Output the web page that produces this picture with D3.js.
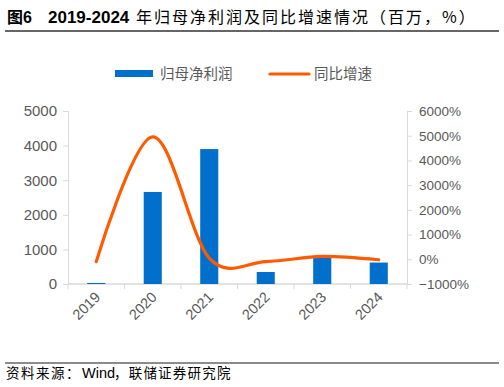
<!DOCTYPE html>
<html><head><meta charset="utf-8">
<script src="https://cdn.jsdelivr.net/npm/d3@7/dist/d3.min.js"></script>
<style>
body{margin:0;background:#fff;}
text{font-family:"Liberation Sans",Arial,"Noto Sans CJK SC",sans-serif;}
</style></head>
<body><svg id="c" width="504" height="387"></svg>
<script>
const years = ["2019","2020","2021","2022","2023","2024"];
const profit = [30, 2660, 3900, 347, 780, 620];
const growth = [-95, 4950, 47, -91, 116, -20];
const leftTicks = [0,1000,2000,3000,4000,5000];
const rightTicks = [-1000,0,1000,2000,3000,4000,5000,6000];

const svg = d3.select("#c");
const cjk = '"Noto Sans CJK SC",sans-serif';
const gray = "#595959";
const axisCol = "#d9d9d9";
const L = 68, R = 407, T = 111, B = 284;

// title
const title = svg.append("text").attr("y",23).attr("fill","#000");
title.append("tspan").attr("x",7).attr("font-size",16).attr("font-weight","bold").style("font-family",'"Liberation Sans","Noto Sans CJK SC",sans-serif').text("图6");
title.append("tspan").attr("x",48).attr("font-size",17).attr("font-weight","bold").style("font-family",'"Liberation Sans",Arial,sans-serif').text("2019-2024");
title.append("tspan").attr("x",136).attr("font-size",16).attr("letter-spacing",2).style("font-family",cjk).text("年归母净利润及同比增速情况（百万，%）");
svg.append("line").attr("x1",5).attr("x2",499).attr("y1",31).attr("y2",31).attr("stroke","#333").attr("stroke-width",1.5);
svg.append("line").attr("x1",5).attr("x2",499).attr("y1",363).attr("y2",363).attr("stroke","#666").attr("stroke-width",1.3);
const foot = svg.append("text").attr("y",378).attr("fill","#000").attr("font-size",13.5);
foot.append("tspan").attr("x",6).attr("letter-spacing",1.5).style("font-family",cjk).text("资料来源：");
foot.append("tspan").attr("x",82).attr("font-size",14.5).style("font-family",'"Liberation Sans",Arial,sans-serif').text("Wind");
foot.append("tspan").attr("x",114).attr("letter-spacing",1.2).style("font-family",cjk).text("，联储证券研究院");

const x = d3.scaleBand().domain(years).range([L,R]).paddingInner(0.68).paddingOuter(0.34);
const xb = d3.scaleBand().domain(years).range([L,R]);
const yL = d3.scaleLinear().domain([0,5000]).range([B,T]);
const yR = d3.scaleLinear().domain([-1000,6000]).range([B,T]);

// axes
const gL = svg.append("g").attr("transform",`translate(${L},0)`)
  .call(d3.axisLeft(yL).tickValues(leftTicks).tickSize(5).tickPadding(6).tickFormat(d3.format("d")));
const gR = svg.append("g").attr("transform",`translate(${R},0)`)
  .call(d3.axisRight(yR).tickValues(rightTicks).tickSize(5).tickPadding(7).tickFormat(d=>(d<0?"−"+(-d):d)+"%"));
[gL,gR].forEach(g=>{
  g.select(".domain").attr("stroke",axisCol);
  g.selectAll(".tick line").attr("stroke",axisCol);
  g.selectAll("text").attr("fill",gray).attr("font-size",gL===g?15:13.5).style("font-family",'"Liberation Sans",Arial,sans-serif');
});

// x axis
const gX = svg.append("g").attr("transform",`translate(0,${B})`);
gX.append("line").attr("x1",L).attr("x2",R).attr("stroke",axisCol).attr("stroke-width",1.5);
const bounds = years.map(y=>xb(y)).concat([R]);
gX.selectAll("line.t").data(bounds).join("line").attr("class","t")
  .attr("x1",d=>d).attr("x2",d=>d).attr("y1",0).attr("y2",5).attr("stroke",axisCol);
gX.selectAll("text").data(years).join("text")
  .attr("transform",d=>`translate(${xb(d)+xb.bandwidth()/2+5},${14}) rotate(-45)`)
  .attr("text-anchor","end").attr("font-size",14.5).attr("fill",gray)
  .style("font-family",'"Liberation Sans",Arial,sans-serif')
  .text(d=>d);

// bars
svg.append("g").selectAll("rect").data(years).join("rect")
  .attr("x",d=>x(d)).attr("width",x.bandwidth())
  .attr("y",(d,i)=>yL(profit[i])).attr("height",(d,i)=>B-yL(profit[i]))
  .attr("fill","#0070CC");

// line
const line = d3.line().x((d,i)=>xb(years[i])+xb.bandwidth()/2).y(d=>yR(d)).curve(d3.curveCardinal.tension(0));
svg.append("path").attr("d",line(growth)).attr("fill","none").attr("stroke","#FF5A00").attr("stroke-width",3.2).attr("stroke-linecap","round");

// legend
svg.append("rect").attr("x",115).attr("y",70).attr("width",38).attr("height",7).attr("fill","#0070CC");
svg.append("text").attr("x",160).attr("y",79).attr("font-size",14.5).attr("fill",gray).style("font-family",cjk).text("归母净利润");
svg.append("line").attr("x1",270).attr("x2",309).attr("y1",74).attr("y2",74).attr("stroke","#FF5A00").attr("stroke-width",3.2).attr("stroke-linecap","round");
svg.append("text").attr("x",314).attr("y",79).attr("font-size",14.5).attr("fill",gray).style("font-family",cjk).text("同比增速");
</script></body></html>
